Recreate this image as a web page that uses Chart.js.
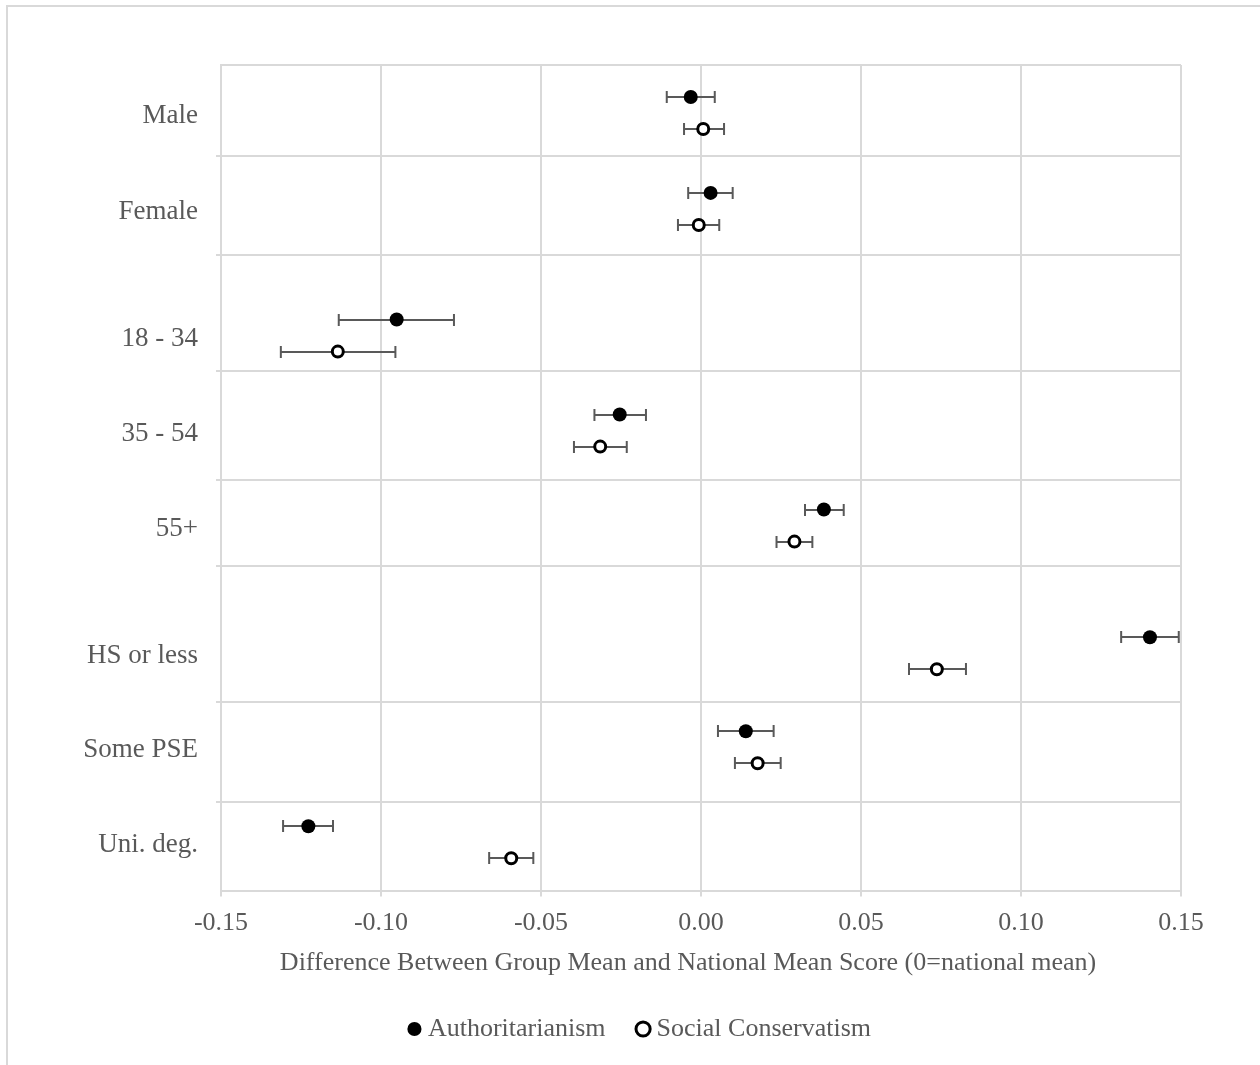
<!DOCTYPE html>
<html><head><meta charset="utf-8">
<script src="https://cdn.jsdelivr.net/npm/chart.js@4.4.0/dist/chart.umd.min.js"></script>
<style>
html,body{margin:0;padding:0;background:#fff;}
#wrap{position:absolute;left:0;top:0;width:1260px;height:1065px;overflow:hidden;background:#fff;}
#frame{position:absolute;left:6px;top:5px;width:1300px;height:1100px;border:2px solid #d9d9d9;box-sizing:border-box;}
canvas{position:absolute;left:0;top:0;}
</style></head><body>
<div id="wrap"><div id="frame"></div><canvas id="c" width="1260" height="1065"></canvas></div>
<script>
// ---- data ----
const categories = ['Male','Female','18 - 34','35 - 54','55+','HS or less','Some PSE','Uni. deg.'];
const seriesNames = ['Authoritarianism','Social Conservatism'];
const authMean = [-0.0032, 0.0030, -0.0951, -0.0254, 0.0384, 0.1403, 0.0140, -0.1227];
const authLow  = [-0.0107, -0.0040, -0.1132, -0.0333, 0.0325, 0.1313, 0.0053, -0.1306];
const authHigh = [0.0043, 0.0099, -0.0772, -0.0172, 0.0446, 0.1493, 0.0227, -0.1150];
const socMean  = [0.0007, -0.0007, -0.1135, -0.0315, 0.0292, 0.0737, 0.0177, -0.0593];
const socLow   = [-0.0053, -0.0072, -0.1313, -0.0397, 0.0236, 0.0650, 0.0106, -0.0662];
const socHigh  = [0.0072, 0.0057, -0.0955, -0.0232, 0.0348, 0.0828, 0.0249, -0.0524];
const xTicks = [-0.15, -0.10, -0.05, 0, 0.05, 0.10, 0.15];
const xTitle = 'Difference Between Group Mean and National Mean Score (0=national mean)';

// ---- layout (row positions on the category axis) ----
const rowCenters = [0.5, 1.5, 2.82, 3.81, 4.8, 6.13, 7.11, 8.1];
const separators = [0, 0.95, 1.98, 3.19, 4.32, 5.22, 6.64, 7.68];
const yMax = 8.604;
const dotOffset = 0.167;

const FONT = "'Liberation Serif', 'Times New Roman', serif";
const TXT = '#595959';
const GRID = '#d9d9d9';
const CLEAR = 'rgba(0,0,0,0)';

const authPts = authMean.map((v,i)=>({x:v, y:rowCenters[i]-dotOffset, lo:authLow[i], hi:authHigh[i]}));
const socPts  = socMean.map((v,i)=>({x:v, y:rowCenters[i]+dotOffset, lo:socLow[i], hi:socHigh[i]}));

const errorBars = {
  id:'errorBars',
  beforeDatasetsDraw(chart){
    const {ctx, scales:{x,y}} = chart;
    ctx.save();
    ctx.strokeStyle = '#595959';
    ctx.lineWidth = 2;
    chart.data.datasets.forEach(ds=>{
      ds.data.forEach(p=>{
        const yy = Math.round(y.getPixelForValue(p.y));
        const x1 = x.getPixelForValue(p.lo), x2 = x.getPixelForValue(p.hi);
        ctx.beginPath();
        ctx.moveTo(x1, yy); ctx.lineTo(x2, yy);
        ctx.moveTo(x1, yy-6); ctx.lineTo(x1, yy+6);
        ctx.moveTo(x2, yy-6); ctx.lineTo(x2, yy+6);
        ctx.stroke();
      });
    });
    ctx.restore();
  }
};

new Chart(document.getElementById('c'), {
  type:'scatter',
  data:{datasets:[
    {label:seriesNames[0], data:authPts, pointRadius:7, pointHoverRadius:7, pointBackgroundColor:'#000', pointBorderColor:'#000', pointBorderWidth:0, backgroundColor:'#000', borderColor:'#000', borderWidth:0},
    {label:seriesNames[1], data:socPts, pointRadius:5.5, pointHoverRadius:5.5, pointBackgroundColor:'#fff', pointBorderColor:'#000', pointBorderWidth:3, backgroundColor:'#fff', borderColor:'#000', borderWidth:3}
  ]},
  options:{
    responsive:false, animation:false, devicePixelRatio:1,
    layout:{padding:{top:65, right:0, left:25, bottom:13}},
    plugins:{
      tooltip:{enabled:false},
      legend:{position:'bottom', labels:{usePointStyle:true, pointStyle:'circle', boxWidth:1, boxHeight:10, padding:37, color:TXT, font:{family:FONT, size:26}}}
    },
    scales:{
      x:{type:'linear', min:-0.15, max:0.15,
        afterBuildTicks:s=>{ s.ticks = xTicks.map(v=>({value:v})); },
        ticks:{color:TXT, font:{family:FONT, size:26}, padding:11, maxRotation:0, autoSkip:false, callback:v=>Number(v).toFixed(2)},
        grid:{color:GRID, lineWidth:2, tickLength:6, tickColor:GRID},
        border:{color:GRID, width:2},
        title:{display:true, text:xTitle + '    ', color:TXT, font:{family:FONT, size:26}, padding:{top:-2, bottom:0}}
      },
      y:{type:'linear', reverse:true, min:0, max:yMax,
        afterFit:s=>{ s.width = 196; },
        afterBuildTicks:s=>{ s.ticks = [...separators, ...rowCenters].sort((a,b)=>a-b).map(v=>({value:v})); },
        ticks:{color:TXT, font:{family:FONT, size:27}, padding:18, autoSkip:false, labelOffset:3,
          callback:v=>{ const i = rowCenters.indexOf(v); return i>=0 ? categories[i] : ''; }},
        grid:{lineWidth:2, tickLength:5,
          color:c=> (c.tick && separators.includes(c.tick.value)) ? GRID : CLEAR,
          tickColor:c=> (c.tick && separators.includes(c.tick.value) && c.tick.value>0) ? GRID : CLEAR},
        border:{color:GRID, width:2}
      },
      yRight:{type:'linear', position:'right', display:true,
        afterFit:s=>{ s.width = 79; },
        ticks:{display:false}, grid:{display:false, drawTicks:false}, border:{display:false}
      }
    }
  },
  plugins:[errorBars]
});
</script>
</body></html>
